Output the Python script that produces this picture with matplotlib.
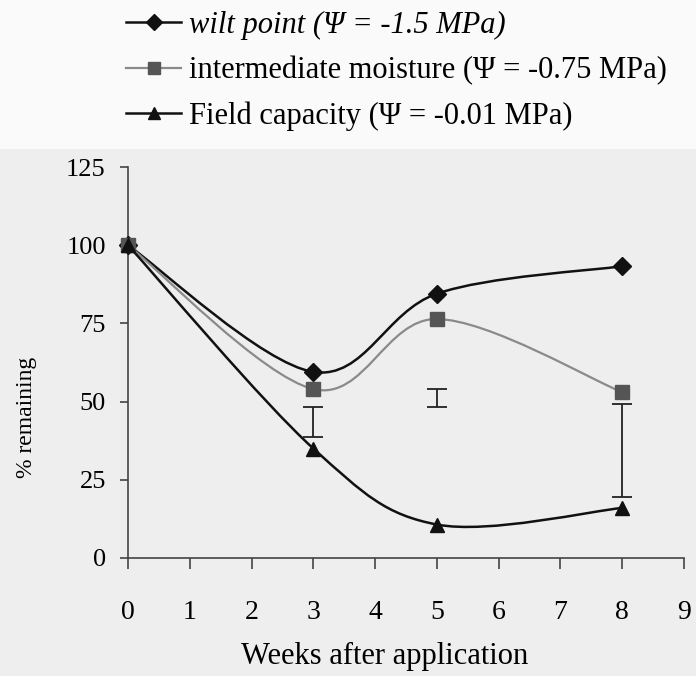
import numpy as np
import matplotlib
matplotlib.use('Agg')
import matplotlib.pyplot as plt
from matplotlib.path import Path
from matplotlib.patches import PathPatch, Rectangle
from matplotlib.lines import Line2D

plt.rcParams['font.family'] = ['Liberation Serif', 'DejaVu Serif']

# values
weeks = [0, 3, 5, 8]
wilt = [100, 59.5, 84.5, 93.3]
intermediate = [100, 54.0, 76.4, 53.0]
field = [100, 35.0, 10.7, 16.0]

# stand-alone error bars (low / high end)
err_weeks = [3, 5, 8]
err_lo = [38.8, 48.2, 19.5]
err_hi = [48.2, 54.0, 49.3]

labels = ['wilt point (\u03a8 = -1.5 MPa)',
          'intermediate moisture (\u03a8 = -0.75 MPa)',
          'Field capacity (\u03a8 = -0.01 MPa)']
xticks = list(range(10))
yticks = [0, 25, 50, 75, 100, 125]


def smooth_path(x, y):
    # Excel style smoothed line: Catmull-Rom segments as cubic Beziers
    p = np.column_stack([x, y]).astype(float)
    pts = np.vstack([p[0], p, p[-1]])
    verts = [p[0]]
    codes = [Path.MOVETO]
    for i in range(1, len(pts) - 2):
        c1 = pts[i] + (pts[i + 1] - pts[i - 1]) / 6
        c2 = pts[i + 1] - (pts[i + 2] - pts[i]) / 6
        verts += [c1, c2, pts[i + 1]]
        codes += [Path.CURVE4] * 3
    return Path(verts, codes)


fig = plt.figure(figsize=(6.96, 6.76), dpi=100)
fig.patch.set_facecolor('#eeeeee')
fig.patches.append(Rectangle((0, 0.78), 1, 0.22, transform=fig.transFigure,
                             facecolor='#fafafa', edgecolor='none', zorder=0))
ax = fig.add_axes([128 / 696, 118 / 676, 556 / 696, 391 / 676])
ax.set_facecolor('none')

series = [
    (wilt, '#111111', 1.8, 'D', 9, '#111111'),
    (intermediate, '#8a8a8a', 1.6, 's', 10, '#555555'),
    (field, '#111111', 1.8, '^', 10, '#111111'),
]
handles = []
for (vals, lc, lw, mk, ms, mc), lab in zip(series, labels):
    ax.add_patch(PathPatch(smooth_path(weeks, vals), facecolor='none',
                           edgecolor=lc, lw=lw, zorder=2))
    ax.plot(weeks, vals, linestyle='none', marker=mk, markersize=ms,
            markerfacecolor=mc, markeredgecolor=mc, zorder=3, clip_on=False)
    handles.append(Line2D([], [], color=lc, lw=lw, marker=mk, markersize=ms - 1,
                          markerfacecolor=mc, markeredgecolor=mc))

mid = (np.array(err_lo) + np.array(err_hi)) / 2
yerr = [mid - np.array(err_lo), np.array(err_hi) - mid]
ax.errorbar(err_weeks, mid, yerr=yerr, fmt='none', ecolor='#222222',
            elinewidth=1.3, capsize=7, capthick=1.3, zorder=2)

ax.set_xlim(0, 9)
ax.set_ylim(0, 125)
ax.set_xticks(xticks)
ax.set_yticks(yticks)
for s in ['top', 'right']:
    ax.spines[s].set_visible(False)
for s in ['left', 'bottom']:
    ax.spines[s].set_color('#444444')
    ax.spines[s].set_linewidth(1.2)
ax.tick_params(axis='x', direction='out', length=8, width=1.2, color='#444444',
               labelsize=20, pad=22)
ax.tick_params(axis='y', direction='out', length=6, width=1.2, color='#444444',
               labelsize=19, pad=10)

ax.set_xlabel('Weeks after application', fontsize=22, va='center')
ax.xaxis.set_label_coords(0.462, -0.253)
ax.set_ylabel('% remaining', fontsize=17, va='center')
ax.yaxis.set_label_coords(-0.182, 0.36)

leg = fig.legend(handles, labels, loc='upper left',
                 bbox_to_anchor=(126 / 696, 1 - 11 / 676), frameon=False,
                 fontsize=22, handlelength=1.8, handletextpad=0.26,
                 labelspacing=0.52, borderpad=0, borderaxespad=0)
leg.get_texts()[0].set_style('italic')

fig.savefig('out.png', dpi=100, facecolor=fig.get_facecolor())
